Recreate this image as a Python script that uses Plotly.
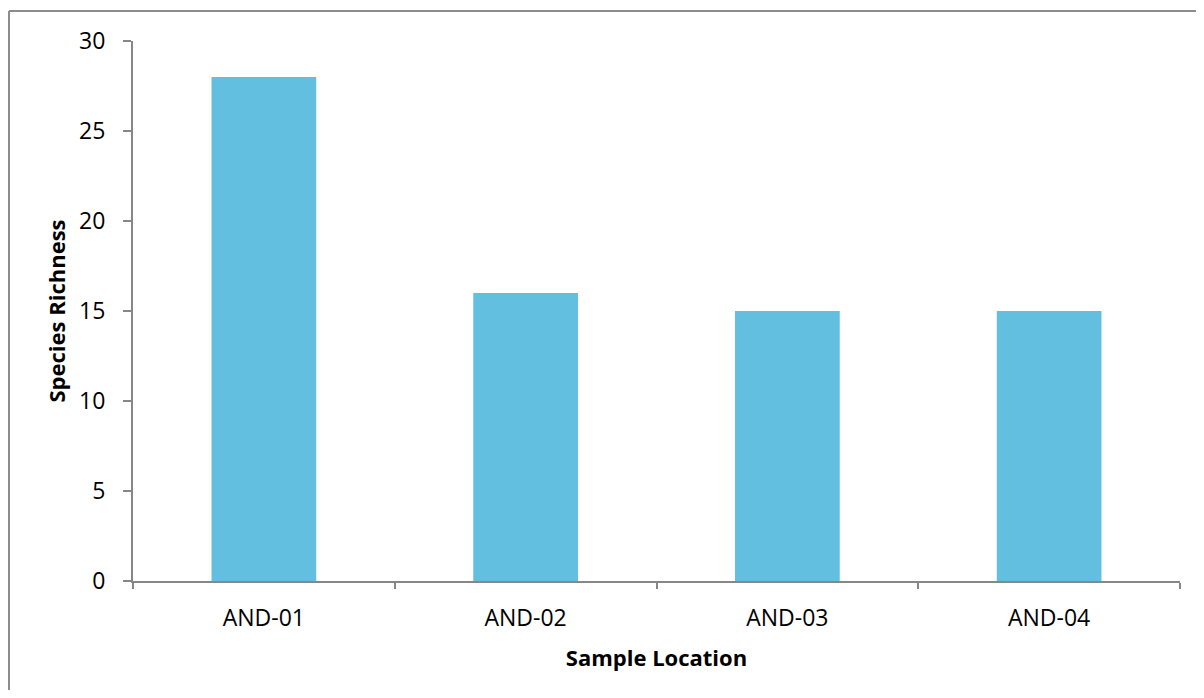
import plotly.graph_objects as go

categories = ["AND-01", "AND-02", "AND-03", "AND-04"]
richness = [28, 16, 15, 15]
y_ticks = [0, 5, 10, 15, 20, 25, 30]

# page body has an 8px margin, so the figure is offset by 8px on each side
OFF = 8
W, H = 1204 - 2 * OFF, 698 - 2 * OFF
L, R, T, B = 133 - OFF, 24 - OFF, 41 - OFF, 117 - OFF
pw, ph = W - L - R, H - T - B

axis_color = "#878787"
font_family = "Open Sans, Liberation Sans, sans-serif"

fig = go.Figure(go.Bar(x=categories, y=richness, marker_color="#62BFE0",
                       marker_line_width=0))

fig.update_layout(
    width=W, height=H,
    margin=dict(l=L, r=R, t=T, b=B, autoexpand=False),
    paper_bgcolor="white", plot_bgcolor="white",
    bargap=0.6,
    showlegend=False,
    font=dict(family=font_family, size=23, color="black"),
)
fig.update_xaxes(
    showline=True, linecolor=axis_color, linewidth=2,
    ticks="outside", tickson="boundaries", ticklen=6, tickcolor=axis_color, tickwidth=2,
    showgrid=False, ticklabelstandoff=15,
    tickfont=dict(size=23),
    title=dict(text="<b>Sample Location</b>", font=dict(size=22), standoff=19),
)
fig.update_yaxes(
    range=[0, 30], tickvals=y_ticks,
    showline=True, linecolor=axis_color, linewidth=2,
    ticks="outside", ticklen=8, tickcolor=axis_color, tickwidth=2,
    showgrid=False, zeroline=False, ticklabelstandoff=13,
    tickfont=dict(size=23),
    title=dict(text="<b>Species Richness</b>", font=dict(size=22), standoff=7),
)

# outer chart frame: only its top and left sides are visible on the page
fx0 = (1 - L) / pw
fx1 = (W - L) / pw
fy_top = (T + ph - 3) / ph
fy_bot = -(H - T - ph) / ph
frame = dict(type="line", xref="paper", yref="paper",
             line=dict(color="#8c8c8c", width=2), layer="below")
fig.add_shape(x0=fx0, x1=fx1, y0=fy_top, y1=fy_top, **frame)
fig.add_shape(x0=fx0, x1=fx0, y0=fy_bot, y1=fy_top, **frame)

fig.write_html("out.html")
